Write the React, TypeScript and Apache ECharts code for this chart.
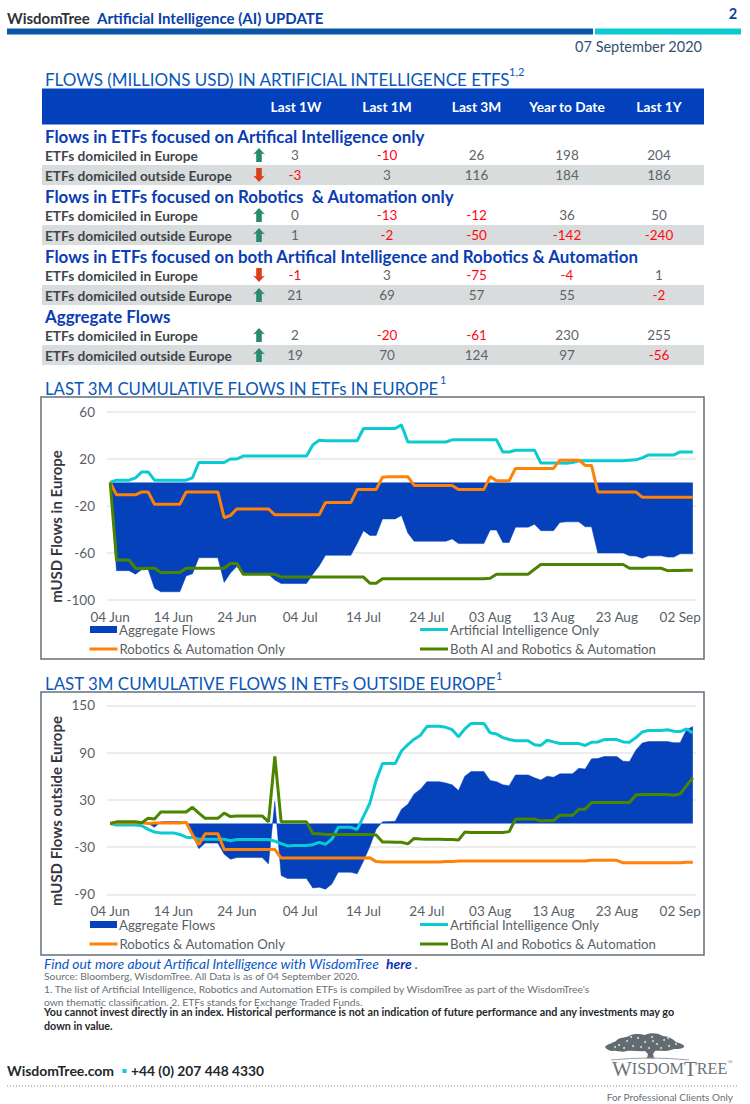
import React, { useEffect, useRef } from "react";
import * as echarts from "echarts";

const months: [string, number, number][] = [["Jun", 4, 30], ["Jul", 1, 31], ["Aug", 1, 31], ["Sep", 1, 4]];
const categories: string[] = [];
months.forEach(([m, a, b]) => { for (let d = a; d <= b; d++) categories.push(`${d < 10 ? "0" : ""}${d} ${m}`); });

const europeAggregate = [0,-75,-75,-75,-78,-74,-74,-90,-93,-93,
  -93,-93,-79.5,-77.7,-64,-64,-64,-64,-85,-77,
  -71.5,-78,-78,-78,-78,-78,-83,-86,-86,-86,
  -86,-86,-78,-71,-62,-62,-62,-62,-62,-52,
  -41,-45,-45,-31,-31,-31,-28,-43,-50,-50,
  -50,-50,-50,-50,-48,-52,-52,-52,-52,-52,
  -40.5,-40.5,-51,-51,-38,-38,-38,-35.5,-41,-41,
  -41,-34,-33.5,-33.5,-33.5,-37.7,-37.7,-60,-60,-60,
  -60,-60,-62.4,-62.6,-64.4,-62.4,-62.4,-62.4,-63.5,-63.5,
  -60.7,-60.7,-60.7];
const europeAI = [0,2,2,2,4,9,9,2,2,2,
  2,2,2,4,17,17,17,17,17,20,
  20,22.5,22.5,22.5,22.5,22.5,22.5,22.5,22.5,22.5,
  22.5,22.5,32,36,35.5,35.5,35.5,35.5,35.5,35.5,
  46,46,46,46,46,46,49,34.5,34.5,34.5,
  34.5,34.5,34.5,34.5,36.3,36.3,36.3,36.3,36.3,36.3,
  36.3,36.3,26,26,27.5,27.5,27.5,27.5,16.5,16.5,
  16.5,16.5,16.3,17,18.5,18.5,18.5,18.5,18.5,18.5,
  18.5,18.5,19,19.3,21,23.5,23.5,23.5,23.5,23.5,
  26,26,26];
const europeRobotics = [0,-10.5,-10.5,-10.5,-10.5,-8,-8,-18.5,-18.5,-18.5,
  -18.5,-18.5,-8,-8,-8,-8,-8,-8,-30,-28,
  -22.5,-22.5,-22.5,-22.5,-22.5,-22.5,-27.5,-27.5,-27.5,-27.5,
  -27.5,-27.5,-27.5,-27.5,-17,-17,-17,-17,-17,-6,
  -6,-6,-6,4.5,5,5,5,5,-2.5,-2.5,
  -2.5,-2.5,-2.5,-2.5,-2.5,-6,-6,-6,-6,-6,
  5,1.5,1.5,1.5,12,12,12,12,12,12,
  12,19,19,19,19,14.5,14.5,-8,-8,-8,
  -8,-8,-8,-8,-12.5,-12.5,-12.5,-12.5,-12.5,-12.5,
  -12.5,-12.5,-12.5];
const europeBoth = [0,-66,-66,-66,-73,-73.5,-73,-73,-76.5,-76.5,
  -76.5,-76.5,-73,-73,-73,-73,-73,-73,-73,-69,
  -69,-78,-78,-78,-78,-78,-78,-80.5,-80.5,-80.5,
  -80.5,-80.5,-80.5,-80.5,-80.5,-80.5,-80.5,-80.5,-80.5,-80.5,
  -80.5,-85.7,-85.7,-82,-82,-82,-82,-82,-82,-82,
  -82,-82,-82,-82,-82,-82,-82,-82,-82,-82,
  -81.4,-78,-78,-78,-78,-78,-78,-73.8,-69.8,-69.8,
  -69.8,-69.8,-69.8,-69.8,-69.8,-69.8,-69.8,-69.8,-69.8,-69.8,
  -69.8,-69.8,-73,-73,-73,-73,-73,-73,-75,-74.8,
  -74.8,-74.7,-74.7];

const outsideAggregate = [0,0,0,0,0,0,0,-5,2,2.3,
  2.3,2.3,0,-15,-32,-25,-25,-25,-39,-45.5,
  -43.4,-43.4,-43.4,-43.4,-43.4,-51.4,28,-66,-70,-70,
  -70,-70,-82,-81,-83.5,-77,-62,-62,-62,-64,
  -47.6,-29.4,-7.4,2,2.3,2.7,18,24.3,37.5,43.4,
  53,53,53,51.4,49,41.7,60,66,66,66,
  54.4,53,49,48,61.6,61.6,61.6,58,55,60,
  58.6,63,63,63,70,69,82,82.4,85,85,
  85,79,78.6,93,102,104,104,104,104,102.6,
  102.6,119,123];
const outsideAI = [0,-2,-2,-2,-2,-3,-7.5,-11,-12,-12,
  -12,-14,-17.5,-18,-20,-20,-20,-20,-20,-22,
  -20.5,-20.5,-20.5,-20.5,-20.5,-20.5,-22.6,-25.6,-28.6,-28,
  -28,-28,-27,-24,-26.5,-20,-5,-5,-5,-7.5,
  9,25.6,55,76,76,76,92,100,107,112,
  123,123.4,123.4,122,119,110,120,127,127,127,
  115,113.6,109,106.5,105,105,105,100,99,105.6,
  103.5,101.4,101.4,101.4,101.4,99,103,103.4,106.5,106.5,
  106.5,103.5,103,109,116,118,118,118,119,117,
  116.6,120,115];
const outsideRobotics = [0,1,1,1,1,1,0,0.6,0.6,0.6,
  0.6,0.6,1.5,-14.6,-27,-13,-13,-13,-33,-33,
  -33,-33,-33,-33,-33,-33,-33,-44,-44,-44,
  -44,-44,-44,-44,-44,-44,-44,-44,-44,-44,
  -44,-43.6,-48.5,-49,-49,-49,-49,-49,-49,-49,
  -49,-49,-49,-48.5,-48.5,-47.6,-47.6,-47.6,-47.6,-47.6,
  -47.6,-47.6,-47.6,-47.6,-47.6,-47.6,-47.6,-47.6,-47.6,-47.6,
  -47.6,-47.6,-47.6,-47.6,-47.6,-47.6,-46.8,-46.8,-46.8,-46.8,
  -46.8,-50,-50,-50,-50,-50,-50,-50,-50,-50,
  -50,-49.3,-49.3];
const outsideBoth = [0,2,2,2,2,1,6.5,5.7,14.6,14.6,
  14.6,14.6,14.6,20.5,13,6.5,6.5,6.5,13,8.7,
  9.5,9.5,9.5,9.5,9.5,2,85,2,2,2,
  2,2,-13,-13,-14,-14,-14,-14,-14,-14,
  -14,-14,-14.6,-23.5,-23.5,-24,-24,-26,-19,-19.7,
  -20,-20,-20,-20.4,-20.4,-21,-11,-11.6,-11.6,-11.6,
  -11.6,-11.6,-11.6,-10.4,5.3,5.7,5.7,5.7,3,3.6,
  3.6,10.4,10.4,10.4,18,18,26.5,26.5,26.5,26.5,
  26.5,26.5,26.5,36,36.6,36.6,36.6,36.6,36.6,35.8,
  37.5,48,58];

const europeTicks = [-100, -60, -20, 20, 60];
const outsideTicks = [-90, -30, 30, 90, 150];

const tableColumns = ["Last 1W", "Last 1M", "Last 3M", "Year to Date", "Last 1Y"];
const tableHeadings = [
  "Flows in ETFs focused on Artifical Intelligence only",
  "Flows in ETFs focused on Robotics  & Automation only",
  "Flows in ETFs focused on both Artifical Intelligence and Robotics & Automation",
  "Aggregate Flows",
];
const tableRowLabels = ["ETFs domiciled in Europe", "ETFs domiciled outside Europe"];
const tableValues = [
  [3, -10, 26, 198, 204], [-3, 3, 116, 184, 186],
  [0, -13, -12, 36, 50], [1, -2, -50, -142, -240],
  [-1, 3, -75, -4, 1], [21, 69, 57, 55, -2],
  [2, -20, -61, 230, 255], [19, 70, 124, 97, -56],
];
const seriesNames = ["Aggregate Flows", "Artificial Intelligence Only", "Robotics & Automation Only", "Both AI and Robotics & Automation"];

const BLUE = "#0541bb", TEAL = "#0bcbd0", ORANGE = "#ff8107", GREEN = "#4b8500";
const FONT = "Lato, 'Noto Sans', sans-serif";
const colX = [296, 387, 476.5, 567, 659];

const treeSpecks = [[14,12],[22,8],[28,13],[33,5],[40,9],[47,4],[52,11],[59,7],[64,13],[71,11],[19,15],[36,14],[44,15],[56,15],[26,4],[63,5],[10,14],[48,8]];

echarts.graphic.registerShape("wtTree", echarts.graphic.extendPath(
  "M0 14 C2 11 8 10 11 8 C14 4 20 5 24 3 C28 0 36 1 40 2 C45 -1 54 0 58 3 C63 3 68 6 71 9 C75 10 80 12 79 14 C76 17 70 15 66 17 C60 19 54 17 50 18 L48 21 L49 25 L51 25.5 L40 25.5 L42 25 L43 21 L40 18 C34 19 28 17 22 18 C16 20 12 17 8 18 C4 18 1 16 0 14 Z", {}));

function txt(text: string, x: number, y: number, font: string, fill: string, align = "left", extra: any = {}) {
  return {
    type: "text", x, y, silent: true, ...extra,
    style: { text, font, fill, align, textAlign: align, verticalAlign: "middle", textVerticalAlign: "middle" },
  };
}

function buildGraphic() {
  const g: any[] = [];
  const rect = (x: number, y: number, w: number, h: number, fill: string, stroke?: string) =>
    g.push({ type: "rect", silent: true, shape: { x, y, width: w, height: h }, style: stroke ? { fill: "none", stroke, lineWidth: 1.5 } : { fill } });

  g.push(txt("WisdomTree", 7, 17.5, `bold 15px ${FONT}`, "#2e3338"));
  g.push(txt("Artificial Intelligence (AI) UPDATE", 97, 17.5, `bold 15px ${FONT}`, "#0a3fa8"));
  g.push(txt("2", 733, 13, `bold 14.5px ${FONT}`, "#0a3fa8", "center"));
  rect(7, 28.5, 586, 6, "#0a57a8");
  rect(595, 28.5, 146, 6, TEAL);
  g.push(txt("07 September 2020", 702, 46.5, `14.5px ${FONT}`, "#34506e", "right"));

  g.push(txt("FLOWS (MILLIONS USD) IN ARTIFICIAL INTELLIGENCE ETFS", 45, 79.5, `17px ${FONT}`, "#0a57b8"));
  g.push(txt("1,2", 509, 71.5, `11px ${FONT}`, "#0a57b8"));
  rect(42, 88.5, 662, 36, "#0241bb");
  tableColumns.forEach((c, i) => g.push(txt(c, colX[i], 106.5, `bold 13.7px ${FONT}`, "#ffffff", "center")));

  tableHeadings.forEach((h, b) => {
    const off = b * 60;
    g.push(txt(h, 45, 136 + off, `bold 16.9px ${FONT}`, "#0a3cb4"));
    rect(42, 165 + off, 662, 20, "#d9dcdc");
    tableRowLabels.forEach((l, r) => {
      const y = 155 + off + r * 20;
      g.push(txt(l, 45, y, `bold 13.7px ${FONT}`, "#3f454a"));
      const row = tableValues[b * 2 + r];
      const up = row[0] >= 0;
      const ax = 259, s = up ? -1 : 1;
      g.push({
        type: "polygon", silent: true,
        shape: { points: [[ax, y + s * 7], [ax - 6, y + s * 0.5], [ax - 2.8, y + s * 1.5], [ax - 2.8, y - s * 7], [ax + 2.8, y - s * 7], [ax + 2.8, y + s * 1.5], [ax + 6, y + s * 0.5]] },
        style: { fill: up ? "#2a8a70" : "#d8401a" },
      });
      row.forEach((v, i) => g.push(txt(String(v), colX[i] - (i === 0 ? 1 : 0), y, `13.5px ${FONT}`, v < 0 ? "#ff0a14" : "#5f6468", "center")));
    });
  });

  g.push(txt("LAST 3M CUMULATIVE FLOWS IN ETFs IN EUROPE", 45, 388, `16.8px ${FONT}`, "#0a57b8"));
  g.push(txt("1", 440, 379.5, `11px ${FONT}`, "#0a57b8"));
  g.push(txt("LAST 3M CUMULATIVE FLOWS IN ETFs OUTSIDE EUROPE", 45, 683, `16.9px ${FONT}`, "#0a57b8"));
  g.push(txt("1", 496, 675, `11px ${FONT}`, "#0a57b8"));
  rect(41, 397, 663, 262, "", "#66707a");
  rect(41, 692, 663, 263, "", "#66707a");
  g.push(txt("mUSD Flows in Europe", 56, 526.5, `bold 15px ${FONT}`, "#34393f", "center", { rotation: Math.PI / 2 }));
  g.push(txt("mUSD Flows outside Europe", 56, 811, `bold 15px ${FONT}`, "#34393f", "center", { rotation: Math.PI / 2 }));

  g.push({
    type: "text", x: 44, y: 963, silent: true,
    style: {
      text: "{a|Find out more about Artifical Intelligence with WisdomTree  }{b|here }{a|.}",
      verticalAlign: "middle", textVerticalAlign: "middle",
      rich: {
        a: { fontStyle: "italic", fontSize: 13.85, fontFamily: FONT, fill: "#0a57c8", color: "#0a57c8" },
        b: { fontStyle: "italic", fontWeight: "bold", fontSize: 13.85, fontFamily: FONT, fill: "#0a2fb4", color: "#0a2fb4" },
      },
    },
  });
  g.push(txt("Source: Bloomberg, WisdomTree. All Data is as of 04 September 2020.", 44, 975.5, `10.3px ${FONT}`, "#6a7076"));
  g.push(txt("1. The list of Artificial Intelligence, Robotics and Automation ETFs is compiled by WisdomTree as part of the WisdomTree's", 44, 989, `10.3px ${FONT}`, "#6a7076"));
  g.push(txt("own thematic classification. 2. ETFs stands for Exchange Traded Funds.", 44, 1002, `10.3px ${FONT}`, "#6a7076"));
  g.push(txt("You cannot invest directly in an index. Historical performance is not an indication of future performance and any investments may go", 44, 1011.5, `bold 10.75px ${FONT}`, "#24282c"));
  g.push(txt("down in value.", 44, 1025, `bold 10.75px ${FONT}`, "#24282c"));

  g.push(txt("WisdomTree.com", 7, 1070, `bold 14px ${FONT}`, "#24282c"));
  rect(122.5, 1069, 4, 4, TEAL);
  g.push(txt("+44 (0) 207 448 4330", 131, 1070, `bold 13.8px ${FONT}`, "#24282c"));

  g.push({ type: "wtTree", x: 605, y: 1033, silent: true, style: { fill: "#626b70" } });
  treeSpecks.forEach(([dx, dy]) => g.push({ type: "circle", silent: true, shape: { cx: 605 + dx, cy: 1033 + dy, r: 1 }, style: { fill: "#ffffff", opacity: 0.75 } }));
  g.push({ type: "bezierCurve", silent: true, shape: { x1: 611, y1: 1060, x2: 689, y2: 1060, cpx1: 650, cpy1: 1056 }, style: { stroke: "#9aa0a4", lineWidth: 1, fill: "none" } });
  g.push({
    type: "text", x: 612, y: 1069, silent: true,
    style: {
      text: "{a|W}{b|ISDOM}{a|T}{b|REE}{c|®}", verticalAlign: "middle", textVerticalAlign: "middle",
      rich: {
        a: { fontFamily: "'Liberation Serif', serif", fontSize: 21, fill: "#6a7378", color: "#6a7378" },
        b: { fontFamily: "'Liberation Serif', serif", fontSize: 16.2, fill: "#6a7378", color: "#6a7378" },
        c: { fontFamily: "'Liberation Serif', serif", fontSize: 7, fill: "#6a7378", color: "#6a7378", verticalAlign: "top" },
      },
    },
  });
  g.push({ type: "line", silent: true, shape: { x1: 7, y1: 1086, x2: 738, y2: 1086 }, style: { stroke: "#888", lineWidth: 1, lineDash: [1, 2] } });
  g.push(txt("For Professional Clients Only", 733, 1096.5, `10px ${FONT}`, "#6a7076", "right"));
  return g;
}

function axes(gridIndex: number, min: number, max: number, ticks: number[]) {
  return {
    x: {
      type: "category", gridIndex, data: categories, boundaryGap: true,
      axisLine: { show: false, onZero: false }, axisTick: { show: false },
      axisLabel: { interval: 9, margin: 10, fontFamily: FONT, fontSize: 13.5, color: "#595f66" },
      splitLine: { show: false },
    },
    y: {
      type: "value", gridIndex, min, max,
      axisLine: { show: false }, axisTick: { show: false, customValues: ticks },
      axisLabel: { customValues: ticks, margin: 12, fontFamily: FONT, fontSize: 13.5, color: "#595f66" },
      splitLine: { show: true, lineStyle: { color: "#e6e8e9", width: 1.5 } },
    },
  };
}

function seriesFor(idx: number, data: number[][]) {
  const colors = [BLUE, TEAL, ORANGE, GREEN];
  return data.map((d, i) => ({
    name: seriesNames[i], type: "line", xAxisIndex: idx, yAxisIndex: idx, data: d,
    showSymbol: false, symbol: "none", smooth: false, z: 2 + i, silent: true,
    lineStyle: { color: colors[i], width: i === 0 ? 0.5 : 3 },
    itemStyle: { color: colors[i] },
    ...(i === 0 ? { areaStyle: { color: BLUE, opacity: 1 } } : {}),
  }));
}

function legends() {
  const out: any[] = [];
  const place = [[90, 0], [420, 0], [89.5, 1], [420, 1]];
  [623, 918].forEach((top) => {
    [0, 1, 2, 3].forEach((k) => {
      out.push({
        data: [{ name: seriesNames[k], icon: "rect" }], left: place[k][0], top: top + place[k][1] * 19.5,
        orient: "horizontal", selectedMode: false, itemWidth: k === 0 ? 27 : 28, itemHeight: k === 0 ? 7 : 3,
        padding: 0, textStyle: { fontFamily: FONT, fontSize: 13.2, color: "#595f66", padding: [0, 0, 0, -3] },
      });
    });
  });
  return out;
}

export default function App() {
  const ref = useRef<HTMLDivElement>(null);
  useEffect(() => {
    document.body.style.margin = "0";
    const chart = echarts.init(ref.current!, undefined, { renderer: "svg" });
    const a1 = axes(0, -100, 60, europeTicks);
    const a2 = axes(1, -90, 150, outsideTicks);
    chart.setOption({
      animation: false,
      backgroundColor: "#ffffff",
      grid: [
        { left: 107, top: 412, width: 589, height: 188 },
        { left: 107, top: 705.3, width: 589, height: 189 },
      ],
      xAxis: [a1.x, a2.x],
      yAxis: [a1.y, a2.y],
      legend: legends(),
      graphic: buildGraphic(),
      series: [
        ...seriesFor(0, [europeAggregate, europeAI, europeRobotics, europeBoth]),
        ...seriesFor(1, [outsideAggregate, outsideAI, outsideRobotics, outsideBoth]),
      ],
    });
    return () => chart.dispose();
  }, []);
  return <div ref={ref} style={{ width: 750, height: 1104 }} />;
}
